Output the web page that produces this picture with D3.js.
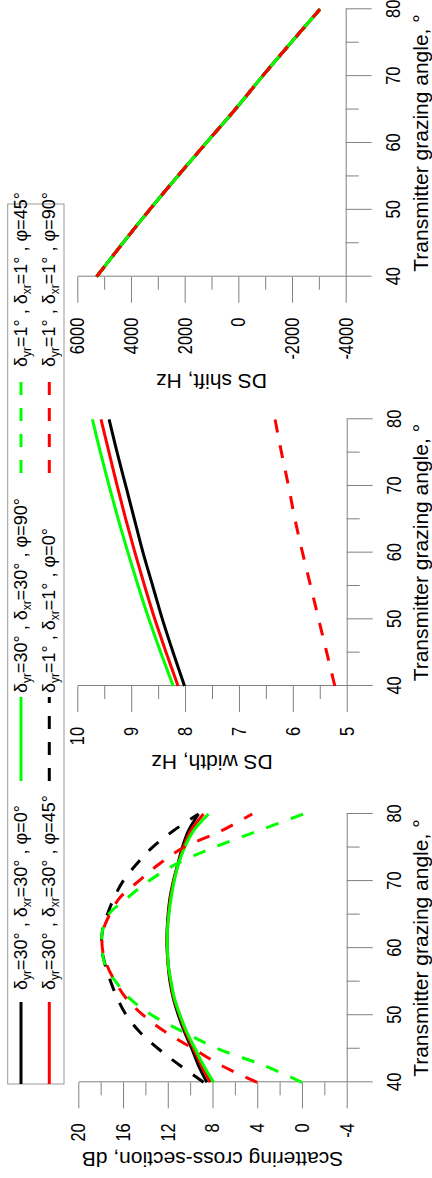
<!DOCTYPE html>
<html>
<head>
<meta charset="utf-8">
<script src="https://cdnjs.cloudflare.com/ajax/libs/d3/7.8.5/d3.min.js"></script>
<style>
body { margin: 0; background: #fff; }
svg { display: block; font-family: 'Liberation Sans', Arial, sans-serif; }
text { white-space: pre; }
</style>
</head>
<body>
<svg id="chart" width="432" height="1178"></svg>
<script>
'use strict';

// transmitter grazing angle, degrees
var anglesFine = [40, 42.5, 45, 47.5, 50, 52.5, 55, 57.5, 60, 62.5, 65, 67.5, 70, 72.5, 75, 77.5, 80];
var anglesCoarse = [40, 45, 50, 55, 60, 65, 70, 75, 80];

// scattering cross-section, dB
var scsBlackSolid = [8.5, 9.25, 9.85, 10.5, 11.05, 11.5, 11.8, 11.97, 12.06, 12.06, 11.97, 11.8, 11.5, 11.1, 10.7, 10.15, 9.25];
var scsRedSolid   = [8.2, 9.0, 9.7, 10.4, 10.95, 11.45, 11.75, 11.96, 12.05, 12.05, 11.94, 11.75, 11.47, 11.07, 10.6, 9.95, 8.8];
var scsGreenSolid = [7.9, 8.8, 9.55, 10.3, 10.9, 11.4, 11.7, 11.95, 12.03, 12.03, 11.9, 11.7, 11.43, 11.05, 10.5, 9.7, 8.35];
var scsBlackDash  = [8.8, 10.9, 12.85, 14.5, 15.7, 16.5, 17.1, 17.6, 17.9, 17.85, 17.4, 16.8, 16.0, 14.8, 13.4, 11.5, 9.25];
var scsGreenDash  = [0.0, 3.4, 7.5, 10.6, 13.4, 15.4, 16.65, 17.6, 17.9, 17.85, 17.3, 15.6, 13.7, 11.3, 7.9, 3.9, -0.15];
var scsRedDash    = [4.0, 7.2, 9.7, 12.2, 14.2, 15.7, 16.7, 17.45, 17.85, 17.8, 17.2, 16.3, 14.6, 12.8, 10.6, 7.2, 4.45];

// DS width, Hz
var dswBlackSolid = [8.01, 8.22, 8.42, 8.60, 8.78, 8.94, 9.10, 9.26, 9.41];
var dswRedSolid   = [8.13, 8.35, 8.56, 8.75, 8.93, 9.10, 9.26, 9.41, 9.56];
var dswGreenSolid = [8.22, 8.45, 8.67, 8.87, 9.06, 9.24, 9.41, 9.57, 9.72];
var dswRedDash    = [5.22, 5.37, 5.52, 5.67, 5.82, 5.96, 6.08, 6.21, 6.33];

// DS shift, Hz (all cases fall on the same line)
var dssShift = [5280, 4310, 3310, 2270, 1200, 120, -900, -1960, -3040];

// legend: delta_yr, delta_xr, phi for each case
var caseKeys = ['blackSolid', 'redSolid', 'greenSolid', 'blackDash', 'greenDash', 'redDash'];
var caseYr  = ['30', '30', '30', '1', '1', '1'];
var caseXr  = ['30', '30', '30', '1', '1', '1'];
var casePhi = ['0', '45', '90', '0', '45', '90'];

var xTitle = 'Transmitter grazing angle, \u00b0';

// line look for each case
var styles = {
	blackSolid: {color: '#000000', dash: null},
	redSolid:   {color: '#ff0000', dash: null},
	greenSolid: {color: '#00ff00', dash: null},
	blackDash:  {color: '#000000', dash: '13,13'},
	greenDash:  {color: '#00ff00', dash: '13,13'},
	redDash:    {color: '#ff0000', dash: '13,13'}
};

var panels = [
	{
		title: 'Scattering cross-section, dB',
		angles: anglesFine,
		series: {blackSolid: scsBlackSolid, redSolid: scsRedSolid, greenSolid: scsGreenSolid,
			blackDash: scsBlackDash, greenDash: scsGreenDash, redDash: scsRedDash},
		yDomain: [-4, 20], yMajor: d3.range(-4, 21, 4), yMinor: d3.range(-2, 20, 4),
		xRange: [95.7, 364], yRange: [346.7, 78.3], titleX: 19
	},
	{
		title: 'DS width, Hz',
		angles: anglesCoarse,
		series: {blackSolid: dswBlackSolid, redSolid: dswRedSolid, greenSolid: dswGreenSolid,
			redDash: dswRedDash},
		yDomain: [5, 10], yMajor: d3.range(5, 11, 1), yMinor: d3.range(5.5, 10, 1),
		xRange: [492, 758.7], yRange: [346.7, 77.3], titleX: 416
	},
	{
		title: 'DS shift, Hz',
		angles: anglesCoarse,
		series: {blackSolid: dssShift, redSolid: dssShift, greenSolid: dssShift,
			blackDash: dssShift, greenDash: dssShift, redDash: dssShift},
		yDomain: [-4000, 6000], yMajor: d3.range(-4000, 6001, 2000), yMinor: d3.range(-3000, 6000, 2000),
		xRange: [901.3, 1168.7], yRange: [345.7, 77.3], titleX: 797
	}
];

var svg = d3.select('#chart');
// the figure is laid out landscape and turned a quarter turn
var fig = svg.append('g').attr('transform', 'translate(0,1178) rotate(-90)');

var axisColor = '#808080';

function styleAxis(g){
	g.attr('font-size', 20).attr('font-family', null);
	g.selectAll('path, line').attr('stroke', axisColor);
	// tick labels are a bit narrower than the titles
	g.selectAll('text')
		.attr('fill', '#000')
		.attr('transform', function(){
			var x0 = +d3.select(this).attr('x') || 0;
			return 'translate(' + x0 + ',0) scale(0.82,1) translate(' + (-x0) + ',0)';
		});
}

panels.forEach(function(p){
	var x = d3.scaleLinear().domain([40, 80]).range(p.xRange);
	var y = d3.scaleLinear().domain(p.yDomain).range(p.yRange);
	var g = fig.append('g');

	var base = p.yRange[0];
	var left = p.xRange[0];

	// x axis
	g.append('g')
		.attr('transform', 'translate(0,' + base + ')')
		.call(d3.axisBottom(x).tickValues([40, 50, 60, 70, 80]).tickSize(26).tickSizeOuter(0).tickPadding(14))
		.call(styleAxis);
	g.append('g')
		.attr('transform', 'translate(0,' + base + ')')
		.call(d3.axisBottom(x).tickValues([45, 55, 65, 75]).tickSize(13).tickFormat(''))
		.call(function(a){ a.select('.domain').remove(); })
		.call(styleAxis);

	// y axis
	g.append('g')
		.attr('transform', 'translate(' + left + ',0)')
		.call(d3.axisLeft(y).tickValues(p.yMajor).tickSize(26).tickSizeOuter(0).tickPadding(15)
			.tickFormat(function(d){ return String(d); }))
		.call(styleAxis);
	g.append('g')
		.attr('transform', 'translate(' + left + ',0)')
		.call(d3.axisLeft(y).tickValues(p.yMinor).tickSize(13).tickFormat(''))
		.call(function(a){ a.select('.domain').remove(); })
		.call(styleAxis);

	// axis titles
	g.append('text')
		.attr('x', (p.xRange[0] + p.xRange[1]) / 2)
		.attr('y', 428)
		.attr('text-anchor', 'middle')
		.attr('font-size', 21)
		.text(xTitle);

	g.append('text')
		.attr('transform', 'translate(' + p.titleX + ',' + ((p.yRange[0] + p.yRange[1]) / 2) + ') rotate(-90)')
		.attr('text-anchor', 'middle')
		.attr('dominant-baseline', 'central')
		.attr('font-size', 21)
		.text(p.title);

	var line = d3.line()
		.x(function(d){ return x(d[0]); })
		.y(function(d){ return y(d[1]); })
		.curve(d3.curveCatmullRom.alpha(0.5));

	caseKeys.forEach(function(k){
		var vals = p.series[k];
		if(!vals) return;
		var pts = p.angles.map(function(a, i){ return [a, vals[i]]; });
		g.append('path')
			.datum(pts)
			.attr('fill', 'none')
			.attr('stroke', styles[k].color)
			.attr('stroke-width', 3)
			.attr('stroke-dasharray', styles[k].dash)
			.attr('d', line);
	});
});

// legend
var legend = fig.append('g');
legend.append('rect')
	.attr('x', 94).attr('y', 7.7)
	.attr('width', 880).attr('height', 56.3)
	.attr('fill', 'none')
	.attr('stroke', '#999')
	.attr('stroke-width', 1);

var colLine = [[94, 176], [397, 481], [705, 801]];
var colText = [188, 485, 811];
var rowY = [21, 49.3];

caseKeys.forEach(function(k, i){
	var col = Math.floor(i / 2), row = i % 2;
	legend.append('line')
		.attr('x1', colLine[col][0]).attr('x2', colLine[col][1])
		.attr('y1', rowY[row]).attr('y2', rowY[row])
		.attr('stroke', styles[k].color)
		.attr('stroke-width', 3)
		.attr('stroke-dasharray', styles[k].dash);

	var t = legend.append('text')
		.attr('x', colText[col])
		.attr('y', rowY[row] + 6)
		.attr('font-size', 18);
	t.append('tspan').text('\u03b4');
	t.append('tspan').attr('font-size', 12).attr('dy', 4).text('yr');
	t.append('tspan').attr('dy', -4).text('=' + caseYr[i] + '\u00b0 , \u03b4');
	t.append('tspan').attr('font-size', 12).attr('dy', 4).text('xr');
	t.append('tspan').attr('dy', -4).text('=' + caseXr[i] + '\u00b0 , \u03c6=' + casePhi[i] + '\u00b0');
});
</script>
</body>
</html>
